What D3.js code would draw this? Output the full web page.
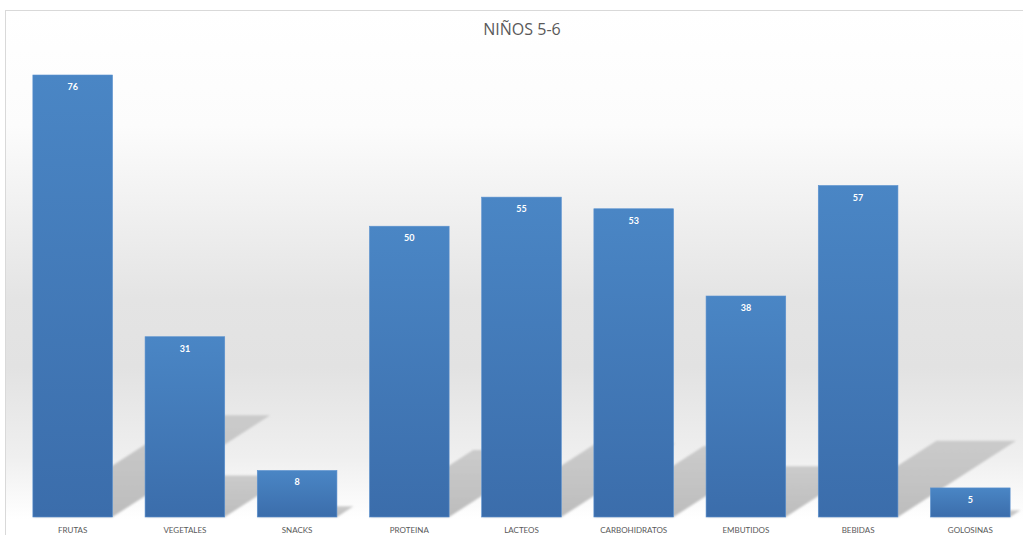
<!DOCTYPE html>
<html>
<head>
<meta charset="utf-8">
<script src="https://cdn.jsdelivr.net/npm/d3@7"></script>
<style>
  body { margin: 0; background: #fff; }
  svg { display: block; }
  .cat { font-family: Lato, "Open Sans", sans-serif; font-size: 8px; fill: #595959; }
  .val { font-family: Lato, "Open Sans", sans-serif; font-size: 9px; font-weight: bold; fill: #fff; }
  .title { font-family: "Open Sans", Lato, sans-serif; font-size: 16px; fill: #595959; }
</style>
</head>
<body>
<svg id="chart"></svg>
<script>
// data
const categories = ["FRUTAS", "VEGETALES", "SNACKS", "PROTEINA", "LACTEOS", "CARBOHIDRATOS", "EMBUTIDOS", "BEBIDAS", "GOLOSINAS"];
const values = [76, 31, 8, 50, 55, 53, 38, 57, 5];
const title = "NIÑOS 5-6";

const W = 1023, H = 535;
const baseY = 517, topY = 75;

const svg = d3.select("#chart").attr("width", W).attr("height", H);
const defs = svg.append("defs");

// background gradient (white -> grey band -> white)
const bg = defs.append("linearGradient").attr("id", "bg")
  .attr("gradientUnits", "userSpaceOnUse")
  .attr("x1", 0).attr("y1", 10).attr("x2", 0).attr("y2", 535);
[[0, "#ffffff"], [0.22, "#fcfcfc"], [0.55, "#e4e4e4"], [0.68, "#e2e2e2"], [0.85, "#efefef"], [0.97, "#ffffff"]]
  .forEach(s => bg.append("stop").attr("offset", s[0]).attr("stop-color", s[1]));

// bar gradient
const bg2 = defs.append("linearGradient").attr("id", "barGrad")
  .attr("x1", 0).attr("y1", 0).attr("x2", 0).attr("y2", 1);
bg2.append("stop").attr("offset", 0).attr("stop-color", "#4a86c5");
bg2.append("stop").attr("offset", 1).attr("stop-color", "#3b6dab");

// shadow gradient + blur
const sg = defs.append("linearGradient").attr("id", "shadowGrad")
  .attr("x1", 0).attr("y1", 1).attr("x2", 0).attr("y2", 0);
sg.append("stop").attr("offset", 0).attr("stop-color", "#bdbdbd");
sg.append("stop").attr("offset", 1).attr("stop-color", "#cbcbcb");
defs.append("filter").attr("id", "blur")
  .attr("x", "-20%").attr("y", "-20%").attr("width", "140%").attr("height", "140%")
  .append("feGaussianBlur").attr("stdDeviation", 1.2);

// chart frame + background
svg.append("rect")
  .attr("x", 5.5).attr("y", 10.5).attr("width", W).attr("height", H)
  .attr("fill", "url(#bg)")
  .attr("stroke", "#d9d9d9");

const x = d3.scaleBand()
  .domain(categories)
  .range([16.6, 1026.4])
  .paddingInner(0.29)
  .paddingOuter(0.145);

const y = d3.scaleLinear()
  .domain([0, 76])
  .range([baseY, topY]);

// perspective shadows
const shY = 0.23, shX = 1.55;
svg.append("g").attr("filter", "url(#blur)")
  .selectAll("polygon")
  .data(values)
  .join("polygon")
  .attr("fill", "url(#shadowGrad)")
  .attr("points", (d, i) => {
    const x0 = x(categories[i]), x1 = x0 + x.bandwidth();
    const sy = (baseY - y(d)) * shY, sx = sy * shX;
    return [[x0, baseY], [x1, baseY], [x1 + sx, baseY - sy], [x0 + sx, baseY - sy]].join(" ");
  });

// bars
svg.append("g")
  .selectAll("rect")
  .data(values)
  .join("rect")
  .attr("x", (d, i) => x(categories[i]))
  .attr("y", d => y(d))
  .attr("width", x.bandwidth())
  .attr("height", d => baseY - y(d))
  .attr("fill", "url(#barGrad)")
  .attr("stroke", "#5a91cf")
  .attr("stroke-width", 0.6);

// value labels
svg.append("g")
  .selectAll("text")
  .data(values)
  .join("text")
  .attr("class", "val")
  .attr("x", (d, i) => x(categories[i]) + x.bandwidth() / 2)
  .attr("y", d => y(d) + 15)
  .attr("text-anchor", "middle")
  .text(d => d);

// category labels
svg.append("g")
  .selectAll("text")
  .data(categories)
  .join("text")
  .attr("class", "cat")
  .attr("x", d => x(d) + x.bandwidth() / 2)
  .attr("y", 533)
  .attr("text-anchor", "middle")
  .text(d => d);

// title
svg.append("text")
  .attr("class", "title")
  .attr("x", 522)
  .attr("y", 35)
  .attr("text-anchor", "middle")
  .text(title);
</script>
</body>
</html>
